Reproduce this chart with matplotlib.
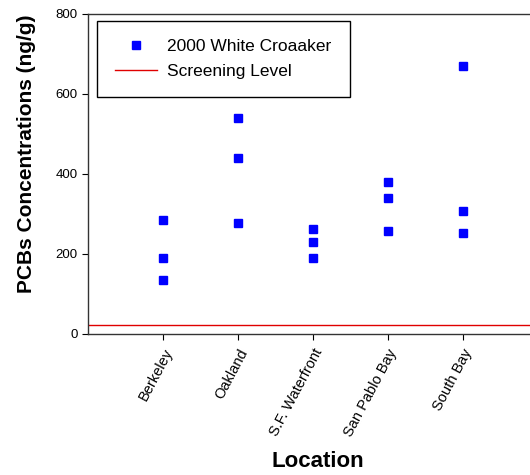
import matplotlib.pyplot as plt

plt.rcParams['font.family'] = ['Liberation Sans', 'DejaVu Sans']

locations = ["Berkeley", "Oakland", "S.F. Waterfront", "San Pablo Bay", "South Bay"]
berkeley = [285, 189, 134]
oakland = [540, 440, 278]
sf_waterfront = [263, 230, 190]
san_pablo = [380, 340, 258]
south_bay = [670, 306, 253]
screening_level = 23

valeurs = [berkeley, oakland, sf_waterfront, san_pablo, south_bay]

fig = plt.figure(figsize=(5.3, 4.75), dpi=100)
ax = fig.add_axes([0.166, 0.297, 0.834, 0.674])

# points par site
xs, ys = [], []
for i, v in enumerate(valeurs):
    xs += [i + 1] * len(v)
    ys += v
ax.plot(xs, ys, linestyle="none", marker="s", markersize=6,
        color="#0000ff", label="2000 White Croaaker")

ax.axhline(screening_level, color="#e00000", lw=1, label="Screening Level")

ax.set_xlim(0, 5.9)
ax.set_ylim(0, 800)
ax.set_yticks([0, 200, 400, 600, 800])
ax.set_xticks(range(1, 6))
ax.set_xticklabels(locations, rotation=62, ha="right", va="top",
                   rotation_mode="anchor", fontsize=10.5)
ax.tick_params(axis="y", labelsize=9.5, direction="out", length=4)
ax.tick_params(axis="x", direction="out", length=4, pad=5)

ax.spines["right"].set_visible(False)
for s in ["top", "left", "bottom"]:
    ax.spines[s].set_linewidth(1)
    ax.spines[s].set_color("#333333")

ax.set_ylabel("PCBs Concentrations (ng/g)", fontsize=15, fontweight="bold")
ax.yaxis.set_label_coords(-0.117, 0.564)
ax.set_xlabel("Location", fontsize=16, fontweight="bold")
ax.xaxis.set_label_coords(0.52, -0.365)

leg = ax.legend(loc="upper left", bbox_to_anchor=(0.0204, 0.978), borderaxespad=0,
                fontsize=12.5, fancybox=False, edgecolor="black", framealpha=1,
                borderpad=1.05, handlelength=2.4, labelspacing=0.55, handletextpad=0.6)
leg.get_frame().set_linewidth(1)

fig.savefig("out.png", dpi=100)
